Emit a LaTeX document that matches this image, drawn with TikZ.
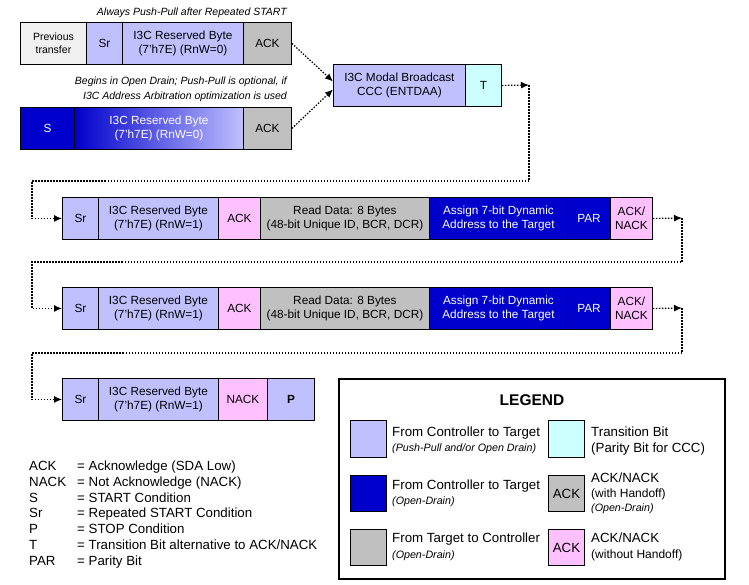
\documentclass[tikz,border=0pt]{standalone}
\usepackage{fontspec}
\setmainfont{Liberation Sans}
\usetikzlibrary{arrows.meta,calc}
\definecolor{lav}{HTML}{C0C0FF}
\definecolor{dblue}{HTML}{0000CC}
\definecolor{gry}{HTML}{C0C0C0}
\definecolor{pnk}{HTML}{FFC0FF}
\definecolor{cyn}{HTML}{CCFFFF}
\definecolor{prevc}{HTML}{F0F0F0}
\newcommand\boxfont{\fontsize{11.8}{14.3}\selectfont}
\tikzset{
  cell/.style={draw, line width=0.9pt, inner sep=0pt, anchor=north west, align=center, font=\boxfont},
  anno/.style={inner sep=0pt, font=\fontsize{10.5}{15}\selectfont\itshape},
  dotl/.style={line width=1.2pt, dash pattern=on 1.5pt off 1.5pt},
  dotarrow/.style={dotl, -{Latex[length=8pt,width=7pt]}},
  legbig/.style={inner sep=0pt, anchor=base west, font=\fontsize{13.3}{16}\selectfont},
  legmid/.style={inner sep=0pt, anchor=base west, font=\fontsize{12}{15}\selectfont},
  legsmall/.style={inner sep=0pt, anchor=base west, font=\fontsize{10.7}{12}\selectfont\itshape},
  swatch/.style={draw, line width=0.9pt, inner sep=0pt, anchor=north west, minimum width=36pt, minimum height=36pt, font=\fontsize{13.3}{16}\selectfont},
}
\begin{document}
\begin{tikzpicture}[x=1pt,y=-1pt]
\useasboundingbox (0,0) rectangle (749,584);
% annotations
\node[anno, anchor=base east] (an1) at (287,15) {Always Push-Pull after Repeated START};
\node[anno, anchor=base east] (an2a) at (287,84) {Begins in Open Drain; Push-Pull is optional, if};
\node[anno, anchor=base east] (an2b) at (287,99) {I3C Address Arbitration optimization is used};
% row 1
\node[cell, fill=prevc, minimum width=66pt, minimum height=42pt, font=\fontsize{10.5}{13.5}\selectfont] (prev) at (20,22) {Previous\\transfer};
\node[cell, fill=lav, minimum width=36pt, minimum height=42pt] (sr1) at (86,22) {Sr};
\node[cell, fill=lav, minimum width=121pt, minimum height=42pt] (rb1) at (122,22) {I3C Reserved Byte\\(7'h7E) (RnW=0)};
\node[cell, fill=gry, minimum width=48pt, minimum height=42pt] (ack1) at (243,22) {ACK};
% row 2
\node[cell, fill=dblue, text=white, minimum width=54pt, minimum height=42pt] (s2) at (20,107) {S};
\node[cell, left color=dblue, right color=lav, text=white, minimum width=169pt, minimum height=42pt] (rb2) at (74,107) {I3C Reserved Byte\\(7'h7E) (RnW=0)};
\node[cell, fill=gry, minimum width=48pt, minimum height=42pt] (ack2) at (243,107) {ACK};
% modal
\node[cell, fill=lav, minimum width=132pt, minimum height=42pt] (modal) at (333,64) {I3C Modal Broadcast\\CCC (ENTDAA)};
\node[cell, fill=cyn, minimum width=36pt, minimum height=42pt] (tbit) at (465,64) {T};
% row 3
\node[cell, fill=lav, minimum width=36pt, minimum height=42pt] (sr3) at (62,197) {Sr};
\node[cell, fill=lav, minimum width=120pt, minimum height=42pt] (rb3) at (98,197) {I3C Reserved Byte\\(7'h7E) (RnW=1)};
\node[cell, fill=pnk, minimum width=42pt, minimum height=42pt] (ack3) at (218,197) {ACK};
\node[cell, fill=gry, minimum width=169pt, minimum height=42pt] (rd3) at (260,197) {Read Data: 8 Bytes\\(48-bit Unique ID, BCR, DCR)};
\node[cell, fill=dblue, text=white, minimum width=138pt, minimum height=42pt] (as3) at (429,197) {Assign 7-bit Dynamic\\Address to the Target};
\node[cell, fill=dblue, text=white, minimum width=43pt, minimum height=42pt] (par3) at (567,197) {PAR};
\node[cell, fill=pnk, minimum width=42pt, minimum height=42pt] (an3) at (610,197) {ACK/\\NACK};
% row 4
\node[cell, fill=lav, minimum width=36pt, minimum height=42pt] (sr4) at (62,287) {Sr};
\node[cell, fill=lav, minimum width=120pt, minimum height=42pt] (rb4) at (98,287) {I3C Reserved Byte\\(7'h7E) (RnW=1)};
\node[cell, fill=pnk, minimum width=42pt, minimum height=42pt] (ack4) at (218,287) {ACK};
\node[cell, fill=gry, minimum width=169pt, minimum height=42pt] (rd4) at (260,287) {Read Data: 8 Bytes\\(48-bit Unique ID, BCR, DCR)};
\node[cell, fill=dblue, text=white, minimum width=138pt, minimum height=42pt] (as4) at (429,287) {Assign 7-bit Dynamic\\Address to the Target};
\node[cell, fill=dblue, text=white, minimum width=43pt, minimum height=42pt] (par4) at (567,287) {PAR};
\node[cell, fill=pnk, minimum width=42pt, minimum height=42pt] (an4) at (610,287) {ACK/\\NACK};
% row 5
\node[cell, fill=lav, minimum width=36pt, minimum height=42pt] (sr5) at (62,378) {Sr};
\node[cell, fill=lav, minimum width=120pt, minimum height=42pt] (rb5) at (98,378) {I3C Reserved Byte\\(7'h7E) (RnW=1)};
\node[cell, fill=pnk, minimum width=49pt, minimum height=42pt] (nack5) at (218,378) {NACK};
\node[cell, fill=lav, minimum width=47pt, minimum height=42pt, font=\boxfont\bfseries] (p5) at (267,378) {P};
% connectors
\draw[dotarrow] (ack1.east) -- ([yshift=4pt]modal.west);
\draw[dotarrow] (ack2.east) -- ([yshift=-4pt]modal.west);
\coordinate (k1) at (529,85);
\coordinate (k2) at (32,181);
\draw[dotarrow] (tbit.east) -- (k1);
\draw[dotarrow] (k1) |- (k2) |- (sr3.west);
\coordinate (k3) at (682,218);
\coordinate (k4) at (32,262);
\draw[dotarrow] (an3.east) -- (k3);
\draw[dotarrow] (k3) |- (k4) |- (sr4.west);
\coordinate (k5) at (682,308);
\coordinate (k6) at (32,353);
\draw[dotarrow] (an4.east) -- (k5);
\draw[dotarrow] (k5) |- (k6) |- (sr5.west);
% abbreviations
\node[inner sep=0pt, anchor=north west, font=\fontsize{13.3}{15.9}\selectfont] (abbr) at (29,458.9) {%
\begin{tabular}{@{}p{48pt}@{}l@{}}
ACK & = Acknowledge (SDA Low)\\
NACK & = Not Acknowledge (NACK)\\
S & = START Condition\\
Sr & = Repeated START Condition\\
P & = STOP Condition\\
T & = Transition Bit alternative to ACK/NACK\\
PAR & = Parity Bit
\end{tabular}};
% legend
\node[draw, line width=1.6pt, inner sep=0pt, anchor=north west, minimum width=386pt, minimum height=200pt] (legend) at (338,378) {};
\node[inner sep=0pt, anchor=base, font=\fontsize{15.5}{18}\selectfont\bfseries] (legtitle) at (532,405) {LEGEND};
\node[swatch, fill=lav, minimum height=37pt] (sw1) at (350,420) {};
\node[swatch, fill=dblue] (sw2) at (350,475) {};
\node[swatch, fill=gry] (sw3) at (350,529) {};
\node[swatch, fill=cyn, minimum height=37pt] (sw4) at (548,420) {};
\node[swatch, fill=gry] (sw5) at (548,475) {ACK};
\node[swatch, fill=pnk] (sw6) at (548,529) {ACK};
\node[legbig] (l1a) at (392,436) {From Controller to Target};
\node[legsmall] (l1b) at (392,451) {(Push-Pull and/or Open Drain)};
\node[legbig] (l2a) at (392,489) {From Controller to Target};
\node[legsmall] (l2b) at (392,504) {(Open-Drain)};
\node[legbig] (l3a) at (392,542) {From Target to Controller};
\node[legsmall] (l3b) at (392,558) {(Open-Drain)};
\node[legbig] (r1a) at (591,436) {Transition Bit};
\node[legbig] (r1b) at (591,452) {(Parity Bit for CCC)};
\node[legbig] (r2a) at (591,482) {ACK/NACK};
\node[legmid] (r2b) at (591,497) {(with Handoff)};
\node[legsmall] (r2c) at (591,511) {(Open-Drain)};
\node[legbig] (r3a) at (591,542) {ACK/NACK};
\node[legmid] (r3b) at (591,558) {(without Handoff)};
\end{tikzpicture}
\end{document}
